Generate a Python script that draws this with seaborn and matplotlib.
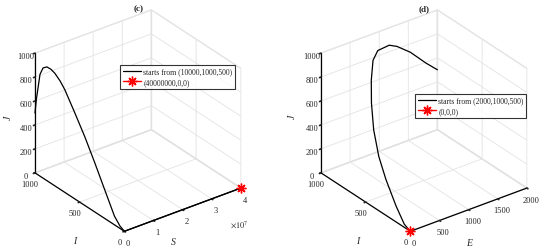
import matplotlib
matplotlib.use("Agg")
import matplotlib.pyplot as plt
import seaborn as sns

# trajectory (c): S, I, J
s_c = [1e4, 1e4, 1e4, 1e4, 1e4, 1e4, 1e4, 1e4, 1e4, 1e4, 1e4, 1e4, 1e4, 1e4, 1e4, 1e4, 1e4,
       1e7, 2e7, 3e7, 4e7]
i_c = [1000, 985, 967, 944, 910, 867, 820, 778, 720, 667, 556, 444, 333, 222, 111, 50, 0,
       0, 0, 0, 0]
j_c = [500, 620, 720, 850, 920, 950, 952, 940, 905, 858, 720, 575, 413, 242, 72, 20, 0,
       0, 0, 0, 0]
eq_c = (4e7, 0, 0)

# trajectory (d): E, I, J
e_d = [2000, 1770, 1460, 1182, 1003, 745, 602, 465, 345, 245, 180, 148, 93, 33, 0]
i_d = [1000, 980, 950, 920, 890, 850, 810, 740, 660, 570, 470, 370, 220, 90, 0]
j_d = [500, 608, 768, 882, 939, 960, 923, 816, 687, 525, 362, 226, 86, 10, 0]
eq_d = (0, 0, 0)

s_ticks = [0, 1e7, 2e7, 3e7, 4e7]
s_ticklabels = ["0", "1", "2", "3", "4"]
e_ticks = [0, 500, 1000, 1500, 2000]
i_ticks = [0, 500, 1000]
j_ticks = [0, 200, 400, 600, 800, 1000]

sns.set_theme(style="white")
plt.rcParams["font.family"] = ["Liberation Serif", "DejaVu Serif"]
plt.rcParams["mathtext.fontset"] = "stix"

W, H = 550, 251
fig = plt.figure(figsize=(W / 100, H / 100), dpi=100)


def px(x, y):
    return x / W, 1 - y / H


def style_axes(ax):
    for axis in (ax.xaxis, ax.yaxis, ax.zaxis):
        axis.pane.fill = False
        axis.pane.set_edgecolor("#d0d0d0")
        axis._axinfo["grid"]["color"] = "#e3e3e3"
        axis._axinfo["grid"]["linewidth"] = 0.6
        axis._axinfo["tick"]["inward_factor"] = 0.15
        axis._axinfo["tick"]["outward_factor"] = 0.0
        axis.line.set_color("black")
        axis.line.set_linewidth(0.9)
    ax.tick_params(labelsize=6, pad=-4)
    ax.set_proj_type("ortho")
    ax.view_init(elev=29.5, azim=-127)
    ax.set_box_aspect((1.06, 1.08, 1.0), zoom=0.965)


def draw(ax, xs, ys, zs, eq, xlim, xticks, xticklabels, start_lbl, eq_lbl, leg_xy):
    ax.plot(xs, ys, zs, color="black", lw=0.9, label=start_lbl)
    ax.plot([eq[0]], [eq[1]], [eq[2]], color="red", lw=1.0, marker=(8, 2, 0),
            ms=7, mew=1.0, label=eq_lbl)
    ax.set_xlim(*xlim)
    ax.set_ylim(0, 1000)
    ax.set_zlim(0, 1000)
    ax.set_xticks(xticks)
    ax.set_xticklabels(xticklabels)
    ax.set_yticks(i_ticks)
    ax.set_zticks(j_ticks)
    style_axes(ax)
    leg = ax.legend(loc="upper left", bbox_to_anchor=px(*leg_xy),
                    bbox_transform=fig.transFigure, fontsize=5.5,
                    frameon=True, fancybox=False, edgecolor="black",
                    handlelength=2.4, handletextpad=0.3, borderpad=0.35,
                    labelspacing=0.3, borderaxespad=0)
    leg.get_frame().set_linewidth(0.8)


ax1 = fig.add_subplot(1, 2, 1, projection="3d")
ax1.set_position([-3 / W, 0.5 / H, 0.5, 1.0])
draw(ax1, s_c, i_c, j_c, eq_c, (0, 4e7), s_ticks, s_ticklabels,
     "starts from (10000,1000,500)", "(40000000,0,0)", (120, 66))

ax2 = fig.add_subplot(1, 2, 2, projection="3d")
ax2.set_position([0.5 + 8 / W, 0.5 / H, 0.5, 1.0])
draw(ax2, e_d, i_d, j_d, eq_d, (0, 2000), e_ticks, [str(t) for t in e_ticks],
     "starts from (2000,1000,500)", "(0,0,0)", (415, 95))

# titles, axis names and the exponent as plain figure text
lab = dict(ha="center", va="center", fontsize=7, fontstyle="italic")
fig.text(*px(8, 118), "J", rotation=90, **lab)
fig.text(*px(75, 242), "I", **lab)
fig.text(*px(173, 243), "S", **lab)
fig.text(*px(292, 117), "J", rotation=90, **lab)
fig.text(*px(358, 242), "I", **lab)
fig.text(*px(469, 244), "E", **lab)
fig.text(*px(239, 225), r"$\times10^7$", ha="center", va="center", fontsize=6)

fig.text(*px(139, 9), "(c)", ha="center", va="center", fontsize=6.5, fontweight="bold")
fig.text(*px(424, 9), "(d)", ha="center", va="center", fontsize=6.5, fontweight="bold")

fig.savefig("out.png", dpi=100)
